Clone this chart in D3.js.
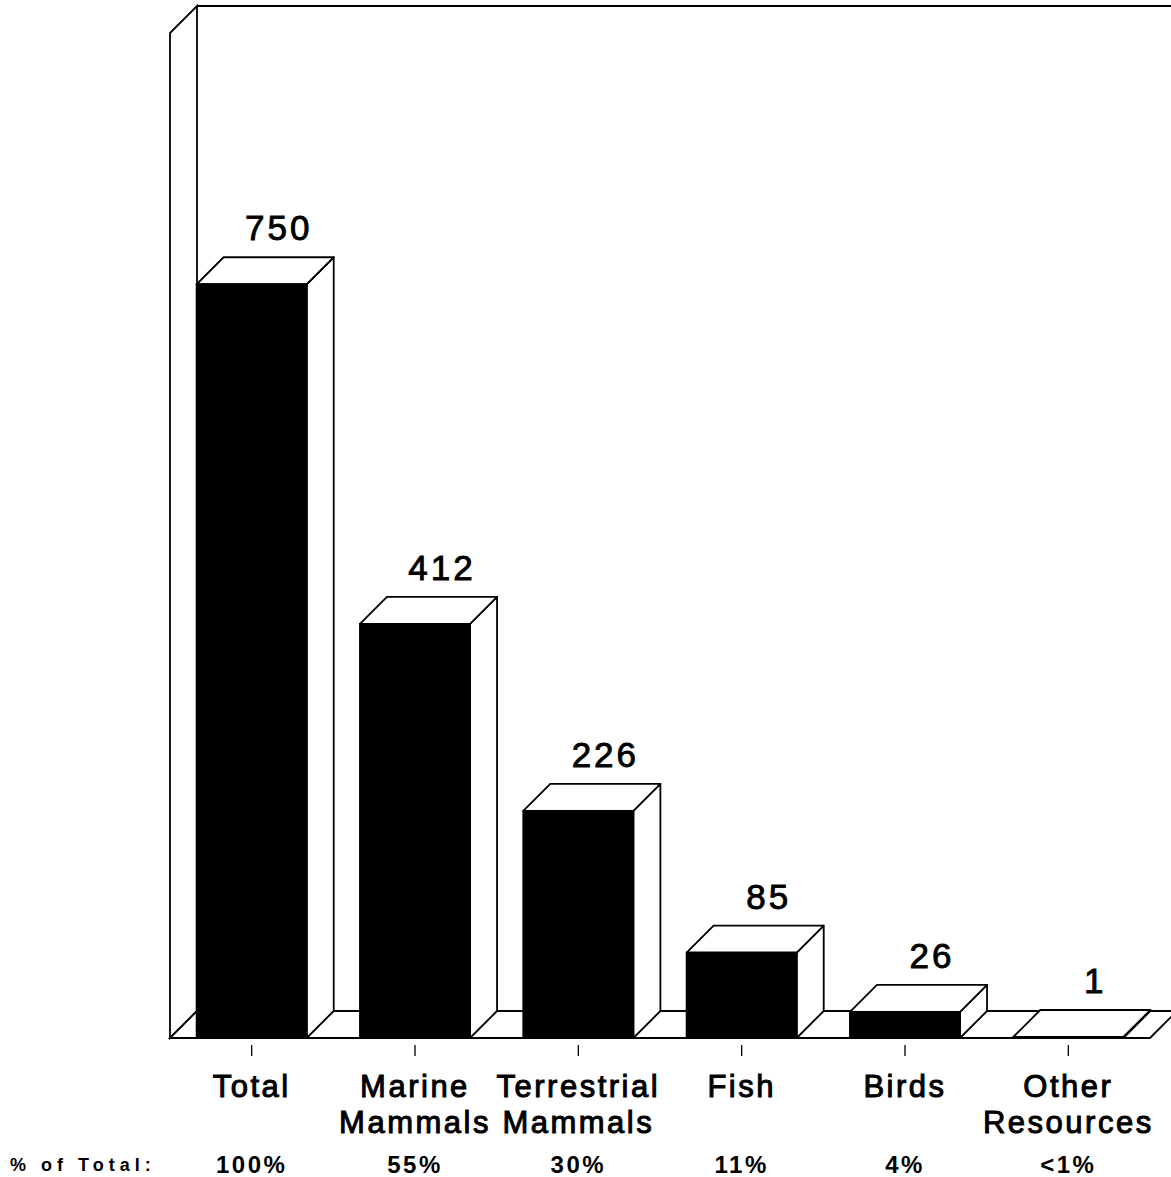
<!DOCTYPE html>
<html>
<head>
<meta charset="utf-8">
<script src="https://cdn.jsdelivr.net/npm/d3@7"></script>
<style>
  body { margin: 0; background: #fff; }
  svg { display: block; }
  text { font-family: "Liberation Sans", Arial, Helvetica, sans-serif; fill: #000; }
  .valueLabel { font-size: 35px; letter-spacing: 3px; stroke: #000; stroke-width: 0.9px; }
  .catLabel { font-size: 31px; letter-spacing: 2.5px; stroke: #000; stroke-width: 1px; }
  .pctLabel { font-size: 24px; font-weight: bold; letter-spacing: 2.5px; }
  .pctTitle { font-size: 18px; font-weight: bold; letter-spacing: 5px; }
</style>
</head>
<body>
<script>
const width = 1171,
    height = 1177

// data
var categories = ["Total", "Marine Mammals", "Terrestrial Mammals", "Fish", "Birds", "Other Resources"];
var catLines = [["Total"], ["Marine", "Mammals"], ["Terrestrial", "Mammals"], ["Fish"], ["Birds"], ["Other", "Resources"]];
var values = [750, 412, 226, 85, 26, 1];
var percents = ["100%", "55%", "30%", "11%", "4%", "<1%"];
var pctTitle = "% of Total:";

var depth = 27; // 3d offset of the box

var svg = d3.select("body").append("svg")
  .attr("width", width)
  .attr("height", height);

var x = d3.scaleBand()
  .domain(categories)
  .range([170, 1150])
  .paddingInner(0.326)
  .paddingOuter(0.163);

var y = d3.scaleLinear()
  .domain([0, 1000])
  .range([1038, 33]);

var data = categories.map((c, i) => ({ key: c, value: values[i], lines: catLines[i], pct: percents[i] }));

var x0 = x.range()[0], x1 = x.range()[1];
var yb = y(0), yt = y(1000);

// left wall
svg.append("polygon")
  .attr("points", [[x0, yt], [x0 + depth, yt - depth], [x0 + depth, yb - depth], [x0, yb]].join(" "))
  .attr("fill", "#fff")
  .attr("stroke", "#000")
  .attr("stroke-width", 1.8);

// back wall top edge
svg.append("line")
  .attr("x1", x0 + depth).attr("y1", yt - depth)
  .attr("x2", width).attr("y2", yt - depth)
  .attr("stroke", "#000").attr("stroke-width", 1.8);

// floor
svg.append("polygon")
  .attr("points", [[x0, yb], [x0 + depth, yb - depth], [x1 + depth, yb - depth], [x1, yb]].join(" "))
  .attr("fill", "#fff")
  .attr("stroke", "#000")
  .attr("stroke-width", 1.8);

// bars
var bars = svg.selectAll(".bar").data(data).enter()
  .append("g")
  .attr("class", "bar");

// side face
bars.append("polygon")
  .attr("points", d => {
    let r = x(d.key) + x.bandwidth(), t = y(d.value);
    return [[r, t], [r + depth, t - depth], [r + depth, yb - depth], [r, yb]].join(" ");
  })
  .attr("fill", "#fff").attr("stroke", "#000").attr("stroke-width", 1.8)
  .attr("stroke-linejoin", "round");

// top face
bars.append("polygon")
  .attr("points", d => {
    let l = x(d.key), r = l + x.bandwidth(), t = y(d.value);
    return [[l, t], [l + depth, t - depth], [r + depth, t - depth], [r, t]].join(" ");
  })
  .attr("fill", "#fff").attr("stroke", "#000").attr("stroke-width", 1.8)
  .attr("stroke-linejoin", "round");

// front face
bars.append("rect")
  .attr("x", d => x(d.key))
  .attr("y", d => y(d.value))
  .attr("width", x.bandwidth())
  .attr("height", d => yb - y(d.value))
  .attr("fill", "#000").attr("stroke", "#000").attr("stroke-width", 1.8);

// value labels above the boxes
svg.selectAll(".valueLabel").data(data).enter()
  .append("text")
  .attr("class", "valueLabel")
  .attr("x", d => x(d.key) + x.bandwidth() / 2 + depth)
  .attr("y", d => y(d.value) - depth - 17)
  .attr("text-anchor", "middle")
  .text(d => d.value);

// tick marks
svg.selectAll(".tick").data(data).enter()
  .append("line")
  .attr("class", "tick")
  .attr("x1", d => x(d.key) + x.bandwidth() / 2)
  .attr("x2", d => x(d.key) + x.bandwidth() / 2)
  .attr("y1", yb + 7)
  .attr("y2", yb + 18)
  .attr("stroke", "#000").attr("stroke-width", 1.3);

// category labels
svg.selectAll(".catLabel").data(data).enter()
  .append("text")
  .attr("class", "catLabel")
  .attr("text-anchor", "middle")
  .attr("x", d => x(d.key) + x.bandwidth() / 2)
  .attr("y", 1097)
  .selectAll("tspan")
  .data(d => d.lines.map(l => ({ l: l, cx: x(d.key) + x.bandwidth() / 2 })))
  .enter()
  .append("tspan")
  .attr("x", d => d.cx)
  .attr("dy", (d, i) => i ? 36 : 0)
  .text(d => d.l);

// percent row
svg.append("text")
  .attr("class", "pctTitle")
  .attr("x", 10)
  .attr("y", 1171)
  .text(pctTitle);

svg.selectAll(".pctLabel").data(data).enter()
  .append("text")
  .attr("class", "pctLabel")
  .attr("text-anchor", "middle")
  .attr("x", d => x(d.key) + x.bandwidth() / 2)
  .attr("y", 1173)
  .text(d => d.pct);
</script>
</body>
</html>
